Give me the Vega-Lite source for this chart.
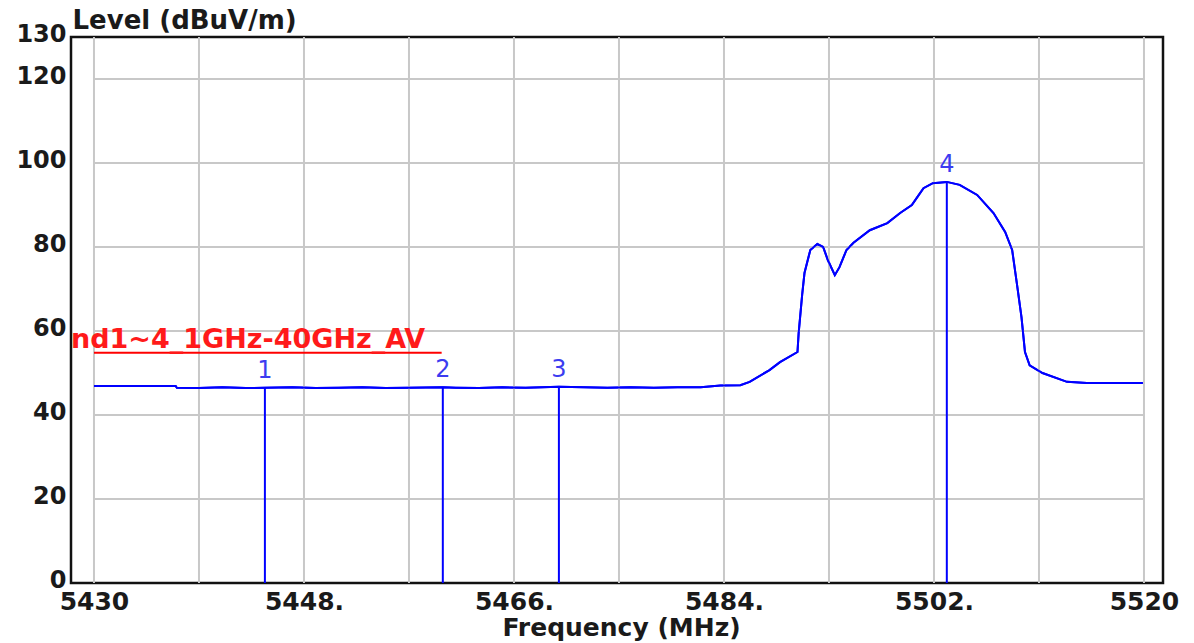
{
  "$schema": "https://vega.github.io/schema/vega-lite/v6.json",
  "autosize": {"type": "none"},
  "padding": {"left": 71, "top": 37, "right": 31, "bottom": 60},
  "width": 1092,
  "height": 546,
  "background": "white",
  "config": {
    "view": {"stroke": "#111111", "strokeWidth": 2.5},
    "axis": {"grid": false, "ticks": false, "domain": false, "labelFont": "DejaVu Sans", "labelFontWeight": "bold", "labelColor": "#1a1a1a", "titleFont": "DejaVu Sans", "titleFontWeight": "bold", "titleColor": "#1a1a1a"}
  },
  "datasets": {
    "trace": [
      {"f": 5430.0, "level": 46.9}, {"f": 5433.0, "level": 46.9}, {"f": 5437.0, "level": 46.9},
      {"f": 5437.1, "level": 46.5}, {"f": 5439.0, "level": 46.4}, {"f": 5441.0, "level": 46.6},
      {"f": 5443.0, "level": 46.4}, {"f": 5444.65, "level": 46.5}, {"f": 5447.0, "level": 46.6},
      {"f": 5449.0, "level": 46.4}, {"f": 5451.0, "level": 46.5}, {"f": 5453.0, "level": 46.6},
      {"f": 5455.0, "level": 46.4}, {"f": 5457.0, "level": 46.5}, {"f": 5459.9, "level": 46.6},
      {"f": 5461.0, "level": 46.5}, {"f": 5463.0, "level": 46.4}, {"f": 5465.0, "level": 46.6},
      {"f": 5467.0, "level": 46.5}, {"f": 5469.85, "level": 46.7}, {"f": 5472.0, "level": 46.6},
      {"f": 5474.0, "level": 46.5}, {"f": 5476.0, "level": 46.6}, {"f": 5478.0, "level": 46.5},
      {"f": 5480.0, "level": 46.6}, {"f": 5482.0, "level": 46.6}, {"f": 5483.7, "level": 47.0},
      {"f": 5485.4, "level": 47.1}, {"f": 5486.2, "level": 47.9}, {"f": 5487.9, "level": 50.7},
      {"f": 5488.8, "level": 52.6}, {"f": 5490.3, "level": 55.0}, {"f": 5490.4, "level": 59.5},
      {"f": 5490.7, "level": 68.6}, {"f": 5490.9, "level": 73.8}, {"f": 5491.4, "level": 79.3},
      {"f": 5492.0, "level": 80.7}, {"f": 5492.5, "level": 80.0}, {"f": 5492.9, "level": 76.9},
      {"f": 5493.5, "level": 73.3}, {"f": 5493.9, "level": 75.2}, {"f": 5494.5, "level": 79.3},
      {"f": 5495.1, "level": 81.0}, {"f": 5496.5, "level": 84.0}, {"f": 5498.0, "level": 85.7},
      {"f": 5499.1, "level": 88.1}, {"f": 5500.1, "level": 90.0}, {"f": 5500.6, "level": 92.0},
      {"f": 5501.1, "level": 94.0},
      {"f": 5501.9, "level": 95.2}, {"f": 5503.1, "level": 95.5}, {"f": 5504.2, "level": 94.8},
      {"f": 5505.7, "level": 92.4}, {"f": 5507.1, "level": 88.1}, {"f": 5508.1, "level": 83.6},
      {"f": 5508.7, "level": 79.3}, {"f": 5509.1, "level": 71.4}, {"f": 5509.5, "level": 63.3},
      {"f": 5509.8, "level": 55.0}, {"f": 5510.2, "level": 51.8}, {"f": 5511.3, "level": 50.0},
      {"f": 5513.4, "level": 47.9}, {"f": 5515.1, "level": 47.6}, {"f": 5519.9, "level": 47.6}
    ],
    "markers": [
      {"f": 5444.65, "level": 46.5, "label": "1"},
      {"f": 5459.9, "level": 46.6, "label": "2"},
      {"f": 5469.85, "level": 46.7, "label": "3"},
      {"f": 5503.1, "level": 95.5, "label": "4"}
    ],
    "gridx": [
      {"f": 5430, "lo": 0, "hi": 130}, {"f": 5439, "lo": 0, "hi": 130}, {"f": 5448, "lo": 0, "hi": 130},
      {"f": 5457, "lo": 0, "hi": 130}, {"f": 5466, "lo": 0, "hi": 130}, {"f": 5475, "lo": 0, "hi": 130},
      {"f": 5484, "lo": 0, "hi": 130}, {"f": 5493, "lo": 0, "hi": 130}, {"f": 5502, "lo": 0, "hi": 130},
      {"f": 5511, "lo": 0, "hi": 130}, {"f": 5520, "lo": 0, "hi": 130}
    ],
    "gridy": [
      {"level": 20, "f": 5430, "f2": 5520}, {"level": 40, "f": 5430, "f2": 5520},
      {"level": 60, "f": 5430, "f2": 5520}, {"level": 80, "f": 5430, "f2": 5520},
      {"level": 100, "f": 5430, "f2": 5520}, {"level": 120, "f": 5430, "f2": 5520}
    ],
    "limit": [
      {"f": 5430, "f2": 5459.8, "level": 54.8}
    ],
    "limitLabel": [
      {"f": 5428.03, "level": 56, "text": "nd1~4_1GHz-40GHz_AV"}
    ]
  },
  "layer": [
    {
      "data": {"name": "trace"},
      "mark": {"type": "line", "color": "#0000ff", "strokeWidth": 2},
      "encoding": {
        "x": {
          "field": "f", "type": "quantitative",
          "scale": {"domain": [5428.03, 5521.63], "nice": false, "zero": false},
          "axis": {
            "title": "Frequency (MHz)", "values": [5430, 5448, 5466, 5484, 5502, 5520], "format": "d",
            "labelExpr": "datum.value == 5430 || datum.value == 5520 ? datum.label : datum.label + '.'",
            "labelFontSize": 25, "labelPadding": 6, "labelFlush": false, "labelOverlap": false,
            "titleFontSize": 25, "titleY": 52, "titleX": 550, "titleBaseline": "alphabetic"
          }
        },
        "y": {
          "field": "level", "type": "quantitative",
          "scale": {"domain": [0, 130], "nice": false},
          "axis": {
            "title": "Level (dBuV/m)", "values": [0, 20, 40, 60, 80, 100, 120, 130],
            "labelFontSize": 24, "labelPadding": 5, "labelOffset": -3, "labelOverlap": false, "labelFlush": false,
            "titleFontSize": 26, "titleAngle": 0, "titleAlign": "left", "titleX": 1, "titleY": -9, "titleBaseline": "alphabetic"
          }
        }
      }
    },
    {
      "data": {"name": "gridx"},
      "mark": {"type": "rule", "color": "#c8c8c8", "strokeWidth": 2},
      "encoding": {
        "x": {"field": "f", "type": "quantitative"},
        "y": {"field": "lo", "type": "quantitative"},
        "y2": {"field": "hi"}
      }
    },
    {
      "data": {"name": "gridy"},
      "mark": {"type": "rule", "color": "#c8c8c8", "strokeWidth": 2},
      "encoding": {
        "y": {"field": "level", "type": "quantitative"},
        "x": {"field": "f", "type": "quantitative"},
        "x2": {"field": "f2"}
      }
    },
    {
      "data": {"name": "limit"},
      "mark": {"type": "rule", "color": "#ff0000", "strokeWidth": 2},
      "encoding": {
        "x": {"field": "f", "type": "quantitative"},
        "x2": {"field": "f2"},
        "y": {"field": "level", "type": "quantitative"}
      }
    },
    {
      "data": {"name": "limitLabel"},
      "mark": {"type": "text", "color": "#ff1a1a", "font": "DejaVu Sans", "fontWeight": "bold", "fontSize": 27, "align": "left", "baseline": "alphabetic"},
      "encoding": {
        "x": {"field": "f", "type": "quantitative"},
        "y": {"field": "level", "type": "quantitative"},
        "text": {"field": "text"}
      }
    },
    {
      "data": {"name": "trace"},
      "mark": {"type": "line", "color": "#0000ff", "strokeWidth": 2},
      "encoding": {
        "x": {"field": "f", "type": "quantitative"},
        "y": {"field": "level", "type": "quantitative"}
      }
    },
    {
      "data": {"name": "markers"},
      "mark": {"type": "rule", "color": "#0000ff", "strokeWidth": 2},
      "encoding": {
        "x": {"field": "f", "type": "quantitative"},
        "y": {"field": "level", "type": "quantitative"},
        "y2": {"datum": 0}
      }
    },
    {
      "data": {"name": "markers"},
      "mark": {"type": "text", "color": "#3c3cf0", "font": "DejaVu Sans", "fontSize": 24, "align": "center", "baseline": "alphabetic", "dy": -10},
      "encoding": {
        "x": {"field": "f", "type": "quantitative"},
        "y": {"field": "level", "type": "quantitative"},
        "text": {"field": "label"}
      }
    }
  ]
}
